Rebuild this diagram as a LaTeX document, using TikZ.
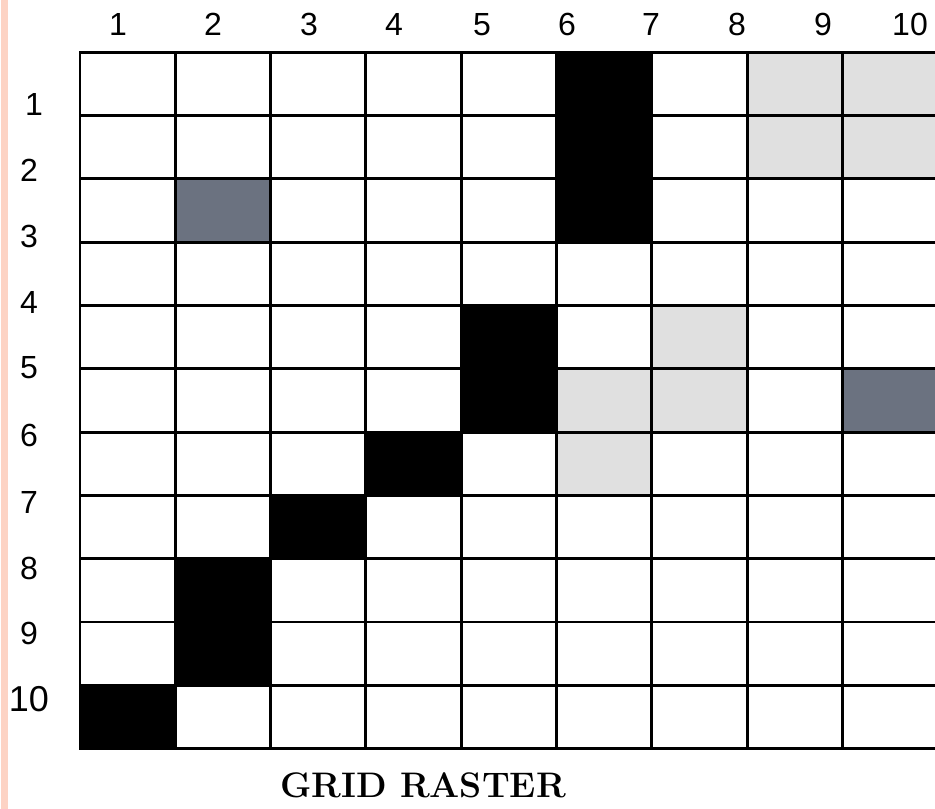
\documentclass[tikz,border=0pt]{standalone}
\usepackage{fontspec}
\newfontfamily\arialfont{Liberation Sans}
\definecolor{pinkbar}{HTML}{FDD3C4}
\definecolor{darkcell}{HTML}{6B7280}
\definecolor{lightcell}{HTML}{E0E0E0}
\begin{document}
\begin{tikzpicture}[x=1pt,y=-1pt,
  gridline/.style={line width=2.9pt,black,line cap=rect},
  lbl/.style={font=\arialfont\fontsize{32}{32}\selectfont,inner sep=0pt,anchor=base},
  biglbl/.style={font=\arialfont\fontsize{36}{36}\selectfont,inner sep=0pt,anchor=base},
  ttl/.style={font=\bfseries\fontsize{35.5}{35.5}\selectfont,inner sep=0pt,anchor=center}]
\useasboundingbox (0,0) rectangle (935,809);
\fill[white] (0,0) rectangle (935,809);
\fill[pinkbar] (1,0) rectangle (7.5,809);
\def\cw{95.3}
\def\rh{63.3}
\def\gx{80}
\def\gy{52.3}
% filled cells: {col/row/color}
\foreach \c/\r/\col in {6/1/black,6/2/black,6/3/black,8/1/lightcell,9/1/lightcell,8/2/lightcell,9/2/lightcell,
  2/3/darkcell,5/5/black,5/6/black,7/5/lightcell,6/6/lightcell,7/6/lightcell,9/6/darkcell,4/7/black,6/7/lightcell,
  3/8/black,2/9/black,2/10/black,1/11/black}{
  \fill[\col] ({\gx+(\c-1)*\cw},{\gy+(\r-1)*\rh}) rectangle ({\gx+\c*\cw},{\gy+\r*\rh});
}
% grid lines
\foreach \i in {0,...,9}{
  \draw[gridline] ({\gx+\i*\cw},\gy) -- ({\gx+\i*\cw},{\gy+11*\rh});
}
\foreach \j in {0,...,11}{
  \draw[gridline] (\gx,{\gy+\j*\rh}) -- ({\gx+9*\cw},{\gy+\j*\rh});
}
% column labels
\foreach \n/\xx in {1/118,2/213,3/309,4/394,5/482,6/567,7/651,8/737,9/823,10/910}{
  \node[lbl] (c\n) at (\xx,35) {\n};
}
% row labels
\foreach \n/\xx/\yy in {1/34/115,2/29/181.5,3/29/247,4/29/313.5,5/29/378,6/29/446,7/29/513.5,8/29/579.5,9/29/644.5}{
  \node[lbl] (r\n) at (\xx,\yy) {\n};
}
\node[biglbl] (r10) at (29,711.5) {10};
\node[ttl] (title) at (423,785) {GRID RASTER};
\end{tikzpicture}
\end{document}
